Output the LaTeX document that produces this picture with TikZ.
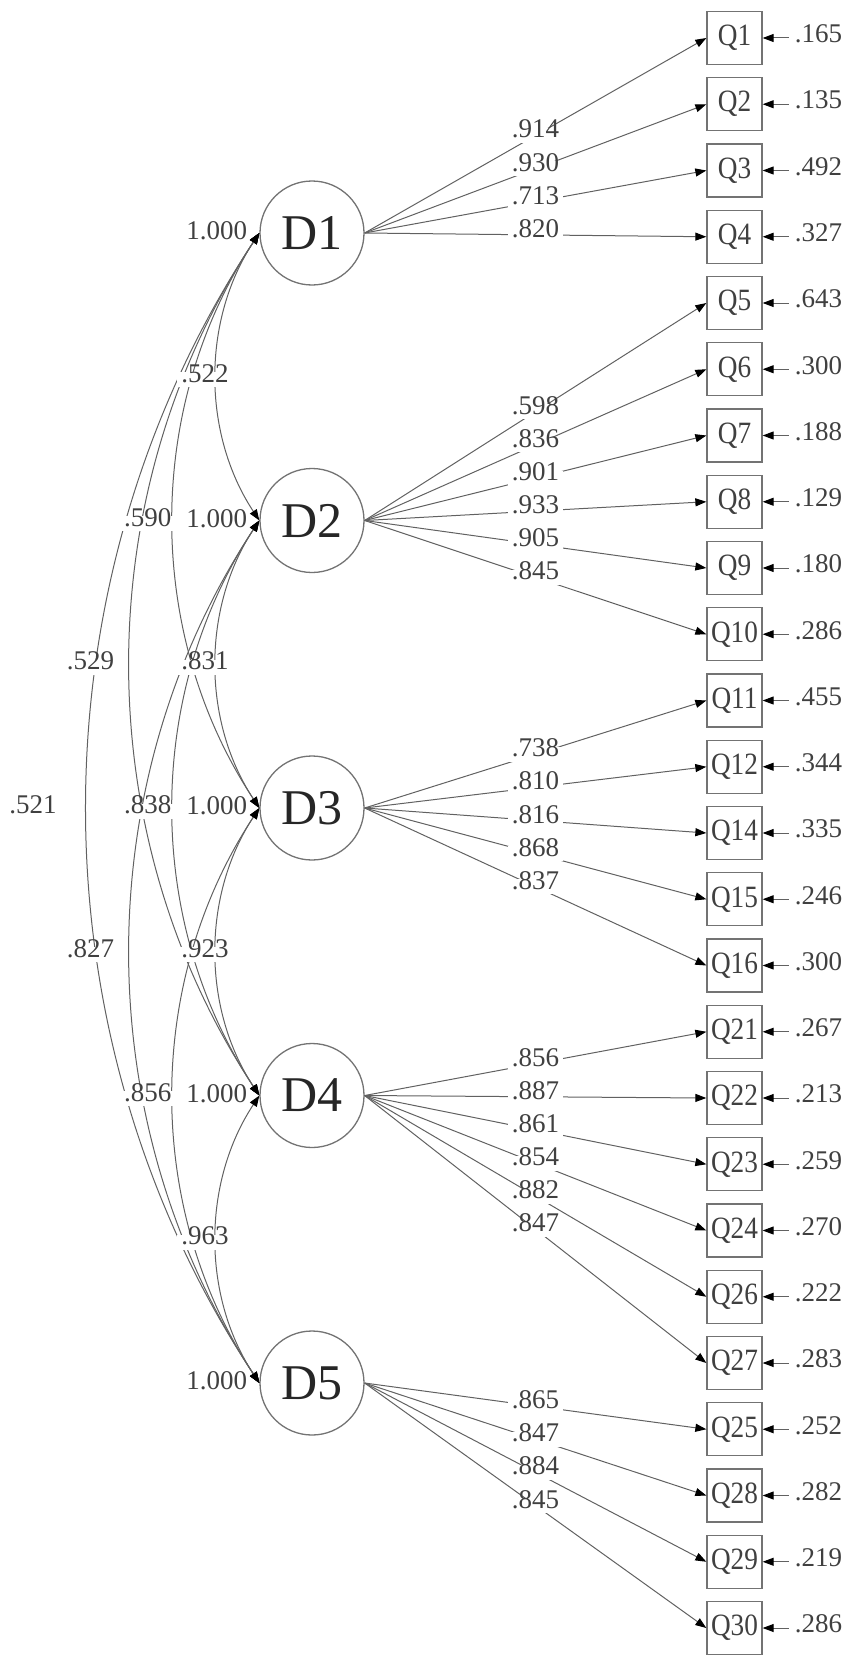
\documentclass[tikz,border=0pt]{standalone}
\usepackage{fontspec}
\setmainfont{Liberation Serif}
\newfontfamily\qfont{Liberation Serif}[FakeStretch=0.88]
\usetikzlibrary{arrows.meta}
\begin{document}
\begin{tikzpicture}[x=1pt,y=-1pt,
  >={Triangle[length=11pt,width=8pt,color=black]},
  lat/.style={circle, draw=black!55, line width=1.3pt, minimum size=104pt, inner sep=0pt,
    font=\fontsize{50}{50}\selectfont, text=black!85},
  obs/.style={rectangle, draw=black!55, line width=1.3pt, minimum width=55pt, minimum height=53pt,
    inner sep=0pt, font=\qfont\fontsize{31}{31}\selectfont, text=black!75},
  num/.style={font=\fontsize{27}{27}\selectfont, text=black!75, inner sep=1pt},
  lab/.style={num, fill=white, inner xsep=4pt, inner ysep=3pt, text height=0.7em, text depth=0.2em},
  ln/.style={draw=black!62, line width=1pt},
]
\useasboundingbox (0,0) rectangle (850,1667);

% latent variables
\foreach \i in {1,...,5}{
  \node[lat] (D\i) at (312,{233+287.5*(\i-1)}) {D\i};
  \node[num, anchor=east] (v\i) at ([xshift=-11pt,yshift=2pt]D\i.west) {1.000};
}

% covariance arcs
\foreach \i/\j in {1/2,1/3,1/4,1/5,2/3,2/4,2/5,3/4,3/5,4/5}{
  \pgfmathsetmacro\ax{-57.46*(\j-\i)}
  \pgfmathsetmacro\ay{87.13*(\j-\i)}
  \draw[ln,<->] (D\i.west) .. controls ([shift={(\ax,\ay)}]D\i.west) and ([shift={(\ax,-\ay)}]D\j.west) .. (D\j.west);
}
\foreach \i/\j/\c in {1/2/.522,1/3/.590,1/4/.529,1/5/.521,2/3/.831,2/4/.838,2/5/.827,3/4/.923,3/5/.856,4/5/.963}{
  \node[lab] (c\i\j) at ({205-57.3*(\j-\i-1)},{236+287.5*((\i+\j)/2-1)}) {\c};
}

% observed variables, loadings, residuals
\foreach \k/\q/\r/\d/\l in {
  1/Q1/.165/D1/.914, 2/Q2/.135/D1/.930, 3/Q3/.492/D1/.713, 4/Q4/.327/D1/.820,
  5/Q5/.643/D2/.598, 6/Q6/.300/D2/.836, 7/Q7/.188/D2/.901, 8/Q8/.129/D2/.933,
  9/Q9/.180/D2/.905, 10/Q10/.286/D2/.845,
  11/Q11/.455/D3/.738, 12/Q12/.344/D3/.810, 13/Q14/.335/D3/.816, 14/Q15/.246/D3/.868,
  15/Q16/.300/D3/.837,
  16/Q21/.267/D4/.856, 17/Q22/.213/D4/.887, 18/Q23/.259/D4/.861, 19/Q24/.270/D4/.854,
  20/Q26/.222/D4/.882, 21/Q27/.283/D4/.847,
  22/Q25/.252/D5/.865, 23/Q28/.282/D5/.847, 24/Q29/.219/D5/.884, 25/Q30/.286/D5/.845}{
  \node[obs] (\q) at (734.5,{38+66.25*(\k-1)}) {\q};
  \coordinate (s\q) at ([xshift=26pt]\q.east);
  \node[num, anchor=west] (e\q) at ([xshift=31pt,yshift=4pt]\q.east) {\r};
  \draw[ln,->] (s\q) -- (\q.east);
  \draw[ln,->] (\d.east) -- node[lab] (l\q) {\l} (\q.west);
}
\end{tikzpicture}
\end{document}
